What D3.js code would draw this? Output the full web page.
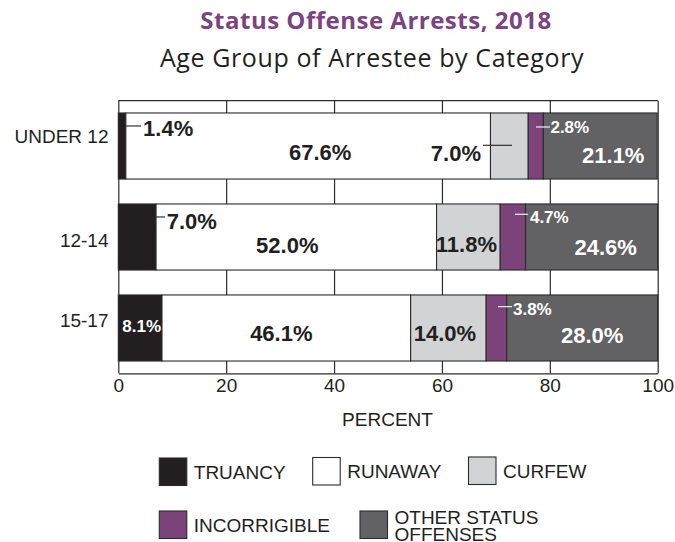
<!DOCTYPE html>
<html>
<head>
<meta charset="utf-8">
<script src="https://cdn.jsdelivr.net/npm/d3@7"></script>
<style>
  html, body { margin: 0; padding: 0; background: #fff; }
  svg { display: block; }
</style>
</head>
<body>
<svg id="chart" width="675" height="542"></svg>
<script>
// ---------------- DATA ----------------
const categories = ["UNDER 12", "12-14", "15-17"];
const seriesKeys = ["TRUANCY", "RUNAWAY", "CURFEW", "INCORRIGIBLE", "OTHER STATUS OFFENSES"];
const truancy      = [1.4, 7.0, 8.1];
const runaway      = [67.6, 52.0, 46.1];
const curfew       = [7.0, 11.8, 14.0];
const incorrigible = [2.8, 4.7, 3.8];
const otherStatus  = [21.1, 24.6, 28.0];
const xTicks = [0, 20, 40, 60, 80, 100];
const titleText = "Status Offense Arrests, 2018";
const subtitleText = "Age Group of Arrestee by Category";
const xAxisTitle = "PERCENT";

// --------------- STYLE / LAYOUT ---------------
const colors = ["#231f20", "#ffffff", "#d1d3d4", "#7b4379", "#626264"];
const FONT = "'Liberation Sans', Arial, Helvetica, sans-serif";
const TITLE_FONT = "'Open Sans', 'Noto Sans', sans-serif";

const svg = d3.select("#chart");

const rows = categories.map((c, i) => ({
  cat: c,
  "TRUANCY": truancy[i],
  "RUNAWAY": runaway[i],
  "CURFEW": curfew[i],
  "INCORRIGIBLE": incorrigible[i],
  "OTHER STATUS OFFENSES": otherStatus[i]
}));
const stacked = d3.stack().keys(seriesKeys)(rows);

const plotTop = 100.7, plotBottom = 373.3;
const x = d3.scaleLinear().domain([0, 100]).range([118.3, 657.7]).clamp(true);
const y = d3.scaleBand().domain(categories).range([plotTop, plotBottom])
  .paddingInner(0.274).paddingOuter(0.135);

// Title
svg.append("text")
  .attr("x", 376).attr("y", 29)
  .attr("text-anchor", "middle")
  .style("font-family", TITLE_FONT).style("font-weight", 700).style("font-size", "24px")
  .style("letter-spacing", "0.5px")
  .attr("fill", "#7b4380")
  .text(titleText);
svg.append("text")
  .attr("x", 372).attr("y", 66.5)
  .attr("text-anchor", "middle")
  .style("font-family", TITLE_FONT).style("font-weight", 400).style("font-size", "25px")
  .style("letter-spacing", "0.6px")
  .attr("fill", "#231f20")
  .text(subtitleText);

// Axis + gridlines (behind bars)
const axisG = svg.append("g")
  .attr("transform", `translate(0,${plotBottom})`)
  .call(d3.axisBottom(x).tickValues(xTicks).tickFormat(d3.format("d"))
    .tickSize(-(plotBottom - plotTop)).tickSizeOuter(0).tickPadding(4.9));
axisG.select(".domain").attr("stroke", "#2b2b2b").attr("stroke-width", 1.3);
axisG.selectAll(".tick line").attr("stroke", "#2b2b2b").attr("stroke-width", 1.2);
axisG.selectAll(".tick text")
  .style("font-family", FONT).style("font-size", "19px").attr("fill", "#231f20");

// top frame line
svg.append("line")
  .attr("x1", x(0)).attr("x2", x(100))
  .attr("y1", plotTop).attr("y2", plotTop)
  .attr("stroke", "#2b2b2b").attr("stroke-width", 1.3);

// Bars
const barG = svg.append("g");
stacked.forEach((layer, j) => {
  barG.selectAll(null).data(layer).enter().append("rect")
    .attr("x", d => x(d[0]))
    .attr("y", d => y(d.data.cat))
    .attr("width", d => x(d[1]) - x(d[0]))
    .attr("height", y.bandwidth())
    .attr("fill", colors[j])
    .attr("stroke", "#2b2b2b")
    .attr("stroke-width", 1.1);
});

// Category labels
const catLabelDy = [-2.7, 10.2, -0.8];
svg.selectAll(null).data(categories).enter().append("text")
  .attr("x", 108.5)
  .attr("y", (d, i) => y(d) + y.bandwidth() / 2 + catLabelDy[i])
  .attr("text-anchor", "end")
  .style("font-family", FONT).style("font-size", "19px").attr("fill", "#231f20")
  .text(d => d);

// Value labels (layout per row / series)
// type c: centered in segment ; r: leader to right of segment end ; l: text to the left, leader into segment
const labelLayout = [
  [
    {t: "r", l0: 0, l1: 15.2, ly: 13, tx: 2, dy: 23.5, s: 22, f: "#231f20", lc: "#231f20"},
    {t: "c", dx: 12, dy: 47.5, s: 22, f: "#231f20"},
    {t: "l", l0: -7.5, l1: 21.5, ly: 32.3, tx: -9.5, dy: 48.3, s: 22, f: "#231f20", lc: "#231f20"},
    {t: "r", l0: -7.4, l1: 6.6, ly: 14, tx: 0.5, dy: 20, s: 17, f: "#ffffff", lc: "#ffffff"},
    {t: "c", dx: 13, dy: 50, s: 22, f: "#ffffff"}
  ],
  [
    {t: "r", l0: 0, l1: 9, ly: 13, tx: 1.7, dy: 25.3, s: 22, f: "#231f20", lc: "#231f20"},
    {t: "c", dx: -9, dy: 49, s: 22, f: "#231f20"},
    {t: "c", dx: -2, dy: 48.5, s: 22, f: "#231f20"},
    {t: "r", l0: -10.6, l1: 2.4, ly: 10.3, tx: 2, dy: 19, s: 17, f: "#ffffff", lc: "#ffffff"},
    {t: "c", dx: 14, dy: 51.3, s: 22, f: "#ffffff"}
  ],
  [
    {t: "c", dx: 1.5, dy: 37.3, s: 17, f: "#ffffff"},
    {t: "c", dx: -5, dy: 46, s: 22, f: "#231f20"},
    {t: "c", dx: -3.5, dy: 46, s: 22, f: "#231f20"},
    {t: "r", l0: -8.7, l1: 5.3, ly: 11.7, tx: 1, dy: 20, s: 17, f: "#ffffff", lc: "#ffffff"},
    {t: "c", dx: 10, dy: 48.3, s: 22, f: "#ffffff"}
  ]
];
const fmt = v => d3.format(".1f")(v) + "%";
const labelG = svg.append("g");
stacked.forEach((layer, j) => {
  layer.forEach((d, i) => {
    const L = labelLayout[i][j];
    const top = y(d.data.cat);
    const x0 = x(d[0]), x1 = x(d[1]);
    const val = d[1] - d[0];
    let tx, anchor;
    if (L.t === "c") {
      tx = (x0 + x1) / 2 + L.dx; anchor = "middle";
    } else if (L.t === "r") {
      labelG.append("line")
        .attr("x1", x1 + L.l0).attr("x2", x1 + L.l1)
        .attr("y1", top + L.ly).attr("y2", top + L.ly)
        .attr("stroke", L.lc).attr("stroke-width", 1.1);
      tx = x1 + L.l1 + L.tx; anchor = "start";
    } else {
      labelG.append("line")
        .attr("x1", x0 + L.l0).attr("x2", x0 + L.l1)
        .attr("y1", top + L.ly).attr("y2", top + L.ly)
        .attr("stroke", L.lc).attr("stroke-width", 1.1);
      tx = x0 + L.tx; anchor = "end";
    }
    labelG.append("text")
      .attr("x", tx).attr("y", top + L.dy)
      .attr("text-anchor", anchor)
      .style("font-family", FONT).style("font-weight", 700).style("font-size", L.s + "px")
      .attr("fill", L.f)
      .text(fmt(val));
  });
});

// X axis title
svg.append("text")
  .attr("x", 387.5).attr("y", 425.7)
  .attr("text-anchor", "middle")
  .style("font-family", FONT).style("font-size", "19px").attr("fill", "#231f20")
  .text(xAxisTitle);

// Legend
const legendPos = [[159.3, 458], [312.7, 457.5], [468.5, 457], [159.3, 511], [360, 511]];
const legendLines = [["TRUANCY"], ["RUNAWAY"], ["CURFEW"], ["INCORRIGIBLE"], ["OTHER STATUS", "OFFENSES"]];
const legG = svg.append("g");
seriesKeys.forEach((k, j) => {
  const [lx, ly] = legendPos[j];
  legG.append("rect")
    .attr("x", lx).attr("y", ly).attr("width", 27.5).attr("height", 27.5)
    .attr("fill", colors[j]).attr("stroke", "#2b2b2b").attr("stroke-width", 1.1);
  const lines = legendLines[j];
  const t = legG.append("text")
    .attr("x", lx + 34.5)
    .style("font-family", FONT).style("font-size", "19px").attr("fill", "#231f20");
  if (lines.length === 1) {
    t.attr("y", ly + 20.5).text(lines[0]);
  } else {
    t.attr("y", ly + 13);
    lines.forEach((ln, m) => {
      t.append("tspan").attr("x", lx + 34.5).attr("y", ly + 12.8 + m * 17.5).text(ln);
    });
  }
});
</script>
</body>
</html>
